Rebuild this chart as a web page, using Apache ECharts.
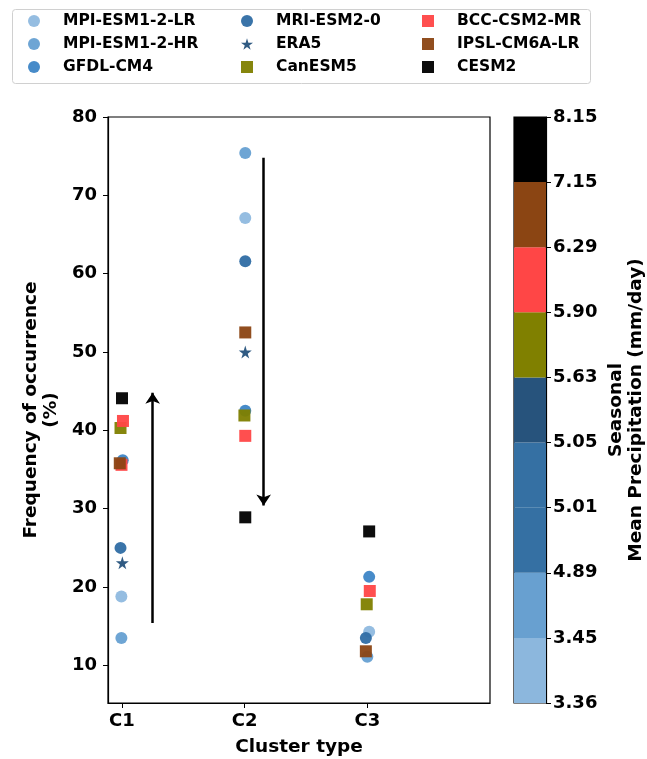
<!DOCTYPE html>
<html>
<head>
<meta charset="utf-8">
<script src="https://cdn.jsdelivr.net/npm/echarts@6/dist/echarts.min.js"></script>
<style>html,body{margin:0;padding:0;background:#fff;}#c{width:647px;height:759px;}</style>
</head>
<body>
<div id="c"></div>
<script>
// ---- data ----
var clusters = ['C1', 'C2', 'C3'];
var yTicks = [10, 20, 30, 40, 50, 60, 70, 80];
var models = ['MPI-ESM1-2-LR', 'MPI-ESM1-2-HR', 'GFDL-CM4', 'MRI-ESM2-0', 'ERA5', 'CanESM5', 'BCC-CSM2-MR', 'IPSL-CM6A-LR', 'CESM2'];
// x = cluster index (with small plotting offsets), y = frequency (%)
var xLR = [-0.005, 0.005, 0.015];   var yLR = [18.8, 67.1, 14.3];
var xHR = [-0.005, 0.005, 0.0];     var yHR = [13.5, 75.4, 11.1];
var xGFDL = [0.006, 0.005, 0.015];  var yGFDL = [36.2, 42.5, 21.3];
var xMRI = [-0.012, 0.005, -0.012]; var yMRI = [25.0, 61.6, 13.5];
var xERA5 = [0.003, 0.005];         var yERA5 = [23.1, 50.0];
var xCan = [-0.012, -0.002, -0.005];var yCan = [40.3, 41.9, 17.8];
var xBCC = [0.008, -0.004, 0.005, 0.02]; var yBCC = [41.2, 35.6, 39.3, 19.5];
var xIPSL = [-0.018, 0.005, -0.012]; var yIPSL = [35.8, 52.5, 11.8];
var xCESM = [0.0, 0.005, 0.015];    var yCESM = [44.1, 28.9, 27.1];
// arrows: [x, yStart, yEnd]
var arrowC1 = [0.25, 15.4, 44.8];
var arrowC2 = [1.155, 74.8, 30.4];
// colorbar
var cbTicks = ['3.36', '3.45', '4.89', '5.01', '5.05', '5.63', '5.90', '6.29', '7.15', '8.15'];
var cbColors = ['#8cb7dd', '#68a0d0', '#3570a3', '#3570a3', '#27537c', '#808000', '#ff4646', '#8b4513', '#000000'];

var modelColors = ['#8fb9df', '#66a0d2', '#3d85c6', '#2f6da4', '#25527c', '#808000', '#ff4646', '#8b4513', '#000000'];
var starPath = 'path://M50,0 L61,35 L98,35 L68,57 L79,91 L50,70 L21,91 L32,57 L2,35 L39,35 Z';
var modelSymbols = ['circle', 'circle', 'circle', 'circle', starPath, 'rect', 'rect', 'rect', 'rect'];
var xs = [xLR, xHR, xGFDL, xMRI, xERA5, xCan, xBCC, xIPSL, xCESM];
var ys = [yLR, yHR, yGFDL, yMRI, yERA5, yCan, yBCC, yIPSL, yCESM];
var baseX = [[0,1,2],[0,1,2],[0,1,2],[0,1,2],[0,1],[0,1,2],[0,0,1,2],[0,1,2],[0,1,2]];

var font = 'DejaVu Sans';
var chart = echarts.init(document.getElementById('c'));

var series = [];
models.forEach(function (m, i) {
  series.push({
    name: m, type: 'scatter', xAxisIndex: 0, yAxisIndex: 0,
    symbol: modelSymbols[i], symbolSize: i === 4 ? 13 : 12,
    itemStyle: { color: modelColors[i], opacity: 0.95 },
    data: ys[i].map(function (v, k) { return [baseX[i][k] + xs[i][k], v]; }),
    z: 3 + i
  });
});
[arrowC1, arrowC2].forEach(function (a) {
  series.push({
    type: 'lines', coordinateSystem: 'cartesian2d', xAxisIndex: 0, yAxisIndex: 0,
    symbol: ['none', 'arrow'], symbolSize: [10, 11],
    lineStyle: { color: '#000', width: 2.5, opacity: 1 },
    data: [{ coords: [[a[0], a[1]], [a[0], a[2]]] }], z: 2, silent: true
  });
});
cbColors.forEach(function (c, i) {
  series.push({
    type: 'bar', xAxisIndex: 1, yAxisIndex: 1, stack: 'cb', barWidth: '100%',
    itemStyle: { color: c }, data: [1], silent: true
  });
});

function legendCol(names, left) {
  return {
    orient: 'vertical', left: left, top: 12, padding: 0,
    itemWidth: 12, itemHeight: 12, itemGap: 5,
    data: names.map(function (n) {
      var i = models.indexOf(n);
      return { name: n, icon: modelSymbols[i] };
    }),
    textStyle: { fontFamily: font, fontWeight: 'bold', fontSize: 15.5, color: '#000', padding: [0, 0, 0, 18], lineHeight: 18 },
    selectedMode: false
  };
}

var axisFont = { fontFamily: font, fontWeight: 'bold', fontSize: 18, color: '#000' };
var nameFont = { fontFamily: font, fontWeight: 'bold', fontSize: 18.5, color: '#000', lineHeight: 20 };

chart.setOption({
  animation: false,
  backgroundColor: '#fff',
  legend: [
    legendCol(models.slice(0, 3), 28),
    legendCol(models.slice(3, 6), 241),
    legendCol(models.slice(6, 9), 422)
  ],
  graphic: [{
    type: 'rect', left: 10, top: 7, shape: { width: 578, height: 74, r: 3 },
    style: { fill: 'none', stroke: '#d0d0d0', lineWidth: 1 }, z: -1
  }],
  grid: [
    { left: 108, right: 157, top: 117, bottom: 56, show: true, borderColor: '#000', borderWidth: 1.2, backgroundColor: 'transparent', containLabel: false, outerBoundsMode: 'none' },
    { left: 514, width: 32, top: 117, bottom: 56, show: true, borderColor: '#000', borderWidth: 1.2, containLabel: false, outerBoundsMode: 'none' }
  ],
  xAxis: [{
    type: 'value', gridIndex: 0, min: -0.114, max: 3,
    axisLine: { show: true, onZero: false, lineStyle: { color: '#000', width: 1.2 } },
    axisTick: { show: true, length: 5, lineStyle: { color: '#000' }, customValues: [0, 1, 2] },
    axisLabel: Object.assign({ customValues: [0, 1, 2], formatter: function (v) { return clusters[Math.round(v)]; }, margin: 9 }, axisFont),
    splitLine: { show: false },
    name: 'Cluster type', nameLocation: 'middle', nameGap: 34,
    nameTextStyle: nameFont
  }, {
    type: 'category', gridIndex: 1, data: ['cb'], show: false
  }],
  yAxis: [{
    type: 'value', gridIndex: 0, min: 5.2, max: 80,
    axisLine: { show: true, onZero: false, lineStyle: { color: '#000', width: 1.2 } },
    axisTick: { show: true, length: 5, lineStyle: { color: '#000' }, customValues: yTicks },
    axisLabel: Object.assign({ customValues: yTicks, margin: 11 }, axisFont),
    splitLine: { show: false },
    name: 'Frequency of occurrence\n(%)', nameLocation: 'middle', nameRotate: 90, nameGap: 45,
    nameTextStyle: nameFont
  }, {
    type: 'value', gridIndex: 1, min: 0, max: 9, interval: 1, position: 'right',
    axisLine: { show: true, onZero: false, lineStyle: { color: '#000', width: 1.2 } },
    axisTick: { show: true, length: 5, lineStyle: { color: '#000' } },
    axisLabel: Object.assign({ formatter: function (v) { return cbTicks[Math.round(v)]; }, margin: 7 }, axisFont),
    splitLine: { show: false },
    name: 'Seasonal\nMean Precipitation (mm/day)', nameLocation: 'middle', nameRotate: 90, nameGap: 60,
    nameTextStyle: nameFont
  }],
  series: series
});
</script>
</body>
</html>
